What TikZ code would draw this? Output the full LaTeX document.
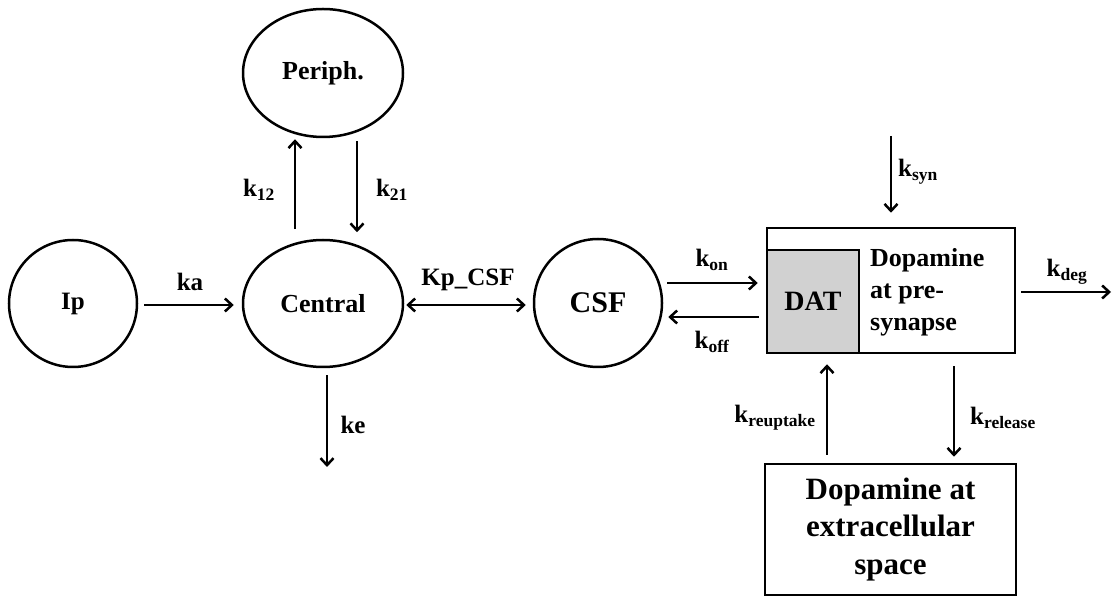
\documentclass[tikz,border=0pt]{standalone}
\usepackage{fontspec}
\setmainfont{Liberation Serif}
\usetikzlibrary{arrows.meta,shapes.geometric}
\tikzset{
  x=1pt,y=1pt,
  comp/.style={draw,line width=2.5pt,ellipse,inner sep=0pt,font=\fontsize{26}{30}\selectfont\bfseries},
  boxed/.style={draw,line width=2.5pt,rectangle,inner sep=0pt},
  tip/.tip={Straight Barb[length=7pt,width=13pt,line width=2.5pt]},
  arr/.style={line width=2.5pt,-tip},
  darr/.style={line width=2.5pt,tip-tip},
  lbl/.style={font=\fontsize{25}{30}\selectfont\bfseries,inner sep=0pt}
}
\begin{document}
\begin{tikzpicture}
\useasboundingbox (0,0) rectangle (1113,597);
% compartments
\node[comp,minimum width=128,minimum height=127,font=\fontsize{25}{28}\selectfont\bfseries] (Ip) at (73,293.5) {Ip};
\node[comp,minimum width=160,minimum height=127] (Central) at (323,293.5) {Central};
\node[comp,minimum width=160,minimum height=128] (Periph) at (323,524) {Periph.};
\node[comp,minimum width=128,minimum height=128,font=\fontsize{30}{34}\selectfont\bfseries] (CSF) at (598,294) {CSF};
\node[boxed,minimum width=248,minimum height=125] (pre) at (891,306.5) {};
\node[boxed,fill=black!18,minimum width=92,minimum height=103,font=\fontsize{28}{32}\selectfont\bfseries] (DAT) at (813,295.5) {DAT};
\node[anchor=west,align=left,inner sep=0pt,font=\fontsize{26}{32}\selectfont\bfseries] (pretext) at (870,305) {Dopamine\\at pre-\\synapse};
\node[boxed,minimum width=251,minimum height=131,align=center,font=\fontsize{31}{37.5}\selectfont\bfseries] (ext) at (890.5,67.5) {Dopamine at\\extracellular\\space};
% free ends
\coordinate (keend) at (327,130);
\coordinate (synstart) at (891,461);
\coordinate (degend) at (1111,305);
% connectors
\draw[arr,shorten <=6pt,shorten >=8pt] ([yshift=-1.5pt]Ip.east) -- ([yshift=-1.5pt]Central.west);
\draw[darr,shorten <=2pt,shorten >=7pt] ([yshift=-1.5pt]Central.east) -- ([yshift=-2pt]CSF.west);
\draw[arr] ([shift={(4,-7)}]Central.south) -- (keend);
\draw[arr] ([shift={(-28,9.5)}]Central.north) -- ([shift={(-28,-1)}]Periph.south);
\draw[arr] ([shift={(34,-3)}]Periph.south) -- ([shift={(34,6.5)}]Central.north);
\draw[arr] ([shift={(4,20)}]CSF.east) -- ([shift={(-8,7.5)}]pre.west);
\draw[arr] ([shift={(-7,-26.5)}]pre.west) -- ([shift={(5,-14)}]CSF.east);
\draw[arr] (synstart) -- ([yshift=14pt]pre.north);
\draw[arr] ([shift={(5,-1.5)}]pre.east) -- (degend);
\draw[arr] ([shift={(-63.5,8)}]ext.north) -- ([shift={(-64,-10)}]pre.south);
\draw[arr] ([shift={(63,-12)}]pre.south) -- ([shift={(63.5,6)}]ext.north);
% rate labels
\node[lbl] (lka) at (190,315) {ka};
\node[lbl] (lkp) at (468,317) {Kp\_CSF};
\node[lbl] (lke) at (353,172) {ke};
\node[lbl] (lk12) at (259,407) {k\textsubscript{12}};
\node[lbl] (lk21) at (392,407) {k\textsubscript{21}};
\node[lbl] (lkon) at (712,337) {k\textsubscript{on}};
\node[lbl] (lkoff) at (712,255) {k\textsubscript{off}};
\node[lbl] (lksyn) at (918,425) {k\textsubscript{syn}};
\node[lbl] (lkdeg) at (1067,325) {k\textsubscript{deg}};
\node[lbl] (lkre) at (775,179) {k\textsubscript{reuptake}};
\node[lbl] (lkrel) at (1003,179) {k\textsubscript{release}};
\end{tikzpicture}
\end{document}
